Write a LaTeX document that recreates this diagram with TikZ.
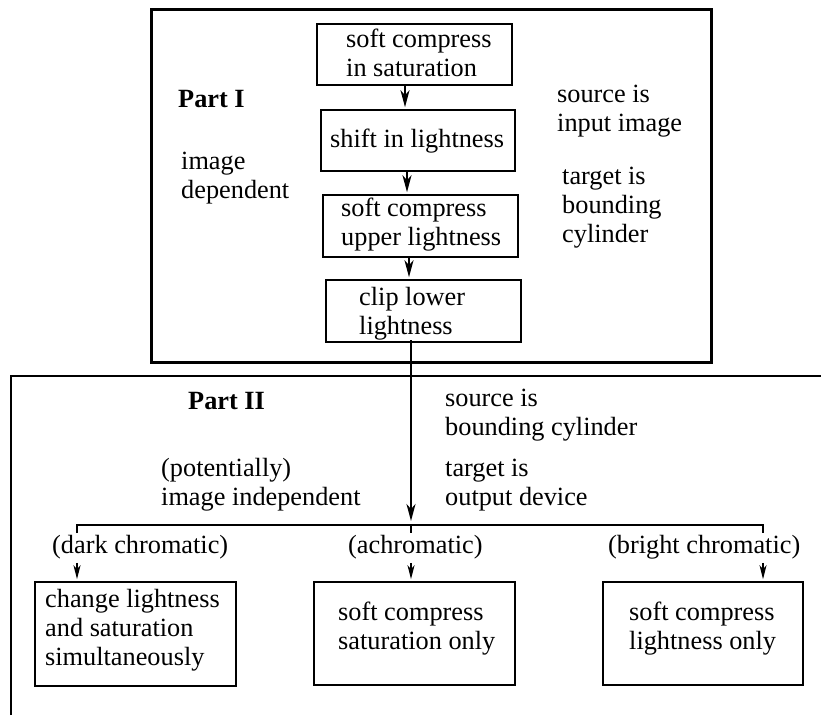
\documentclass[tikz,border=0pt]{standalone}
\usepackage{fontspec}
\setmainfont{Liberation Serif}
\usetikzlibrary{arrows.meta,calc}
\begin{document}
\begin{tikzpicture}[x=1pt,y=-1pt,
  font=\fontsize{26.3}{29}\selectfont,
  frame/.style={draw, line width=2.6pt, rectangle, inner sep=0pt},
  box/.style={draw, line width=2.6pt, rectangle, inner sep=0pt},
  txt/.style={inner sep=0pt, align=left},
  boldtxt/.style={inner sep=0pt, font=\fontsize{26.3}{29}\selectfont\bfseries},
  conn/.style={line width=2.6pt},
  arr/.style={line width=2pt, -{Stealth[length=17pt,width=9pt,inset=5pt]}},
  sarr/.style={line width=1.3pt, -{Stealth[length=14pt,width=7pt,inset=4pt]}},
]
\useasboundingbox (0,0) rectangle (821,715);

% Part I frame
\node[frame, anchor=north west, minimum width=560pt, minimum height=353pt] (p1) at (150,8) {};

% Part II frame lines
\coordinate (q0) at (11,715);
\coordinate (q1) at (11,376);
\coordinate (q2) at (821,376);
\draw[conn] (q0) -- (q1) -- (q2);

% Part I boxes
\node[box, minimum width=195pt, minimum height=61pt] (b1) at (414.5,54.5) {};
\node[box, minimum width=194pt, minimum height=61pt] (b2) at (418,140.5) {};
\node[box, minimum width=195pt, minimum height=62pt] (b3) at (420.5,226) {};
\node[box, minimum width=195pt, minimum height=62pt] (b4) at (423.5,311) {};

\node[txt, anchor=west] (t1) at (346,52.5) {soft compress\\in saturation};
\node[txt, anchor=west] (t2) at (330,140.9) {shift in lightness};
\node[txt, anchor=west] (t3) at (341,224.4) {soft compress\\upper lightness};
\node[txt, anchor=west] (t4) at (359,313.4) {clip lower\\lightness};

% Part I labels
\node[boldtxt, anchor=base west] (pI) at (178,107) {Part I};
\node[txt, anchor=west] (dep) at (181,178.4) {image\\dependent};
\node[txt, anchor=west] (src1) at (557,111.4) {source is\\input image};
\node[txt, anchor=west] (tgt1) at (562,207.9) {target is\\bounding\\cylinder};

% Part I arrows
\draw[arr, shorten >=1.5pt] ([xshift=-9.5pt]b1.south) coordinate (a1) -- (a1 |- b2.north);
\draw[arr, shorten >=1.5pt] ([xshift=-11pt]b2.south) coordinate (a2) -- (a2 |- b3.north);
\draw[arr, shorten >=1.5pt] ([xshift=-11.5pt]b3.south) coordinate (a3) -- (a3 |- b4.north);

% Part II labels
\node[boldtxt, anchor=base west] (pII) at (188,409) {Part II};
\node[txt, anchor=west] (ind) at (161,485.2) {(potentially)\\image independent};
\node[txt, anchor=west] (src2) at (445,415.4) {source is\\bounding cylinder};
\node[txt, anchor=west] (tgt2) at (445,485.4) {target is\\output device};

% splitting bar
\coordinate (jl) at (77,525);
\coordinate (jm) at (411,525);
\coordinate (jr) at (763,525);
\draw[arr, shorten >=4pt] ([xshift=-12.5pt,yshift=3pt]b4.south) -- (jm);
\draw[conn] ([yshift=-8pt]jl) -- (jl) -- (jr) -- ([yshift=-8pt]jr);
\draw[conn] (jm) -- ([yshift=-8pt]jm);

% branch labels
\node[txt, anchor=base west] (l1) at (52,553) {(dark chromatic)};
\node[txt, anchor=base west] (l2) at (348,553) {(achromatic)};
\node[txt, anchor=base west] (l3) at (608,553) {(bright chromatic)};

% Part II boxes
\node[box, minimum width=201pt, minimum height=104pt] (c1) at (135.5,634) {};
\node[box, minimum width=201pt, minimum height=103pt] (c2) at (414.5,633.5) {};
\node[box, minimum width=200pt, minimum height=103pt] (c3) at (703,633.5) {};

\node[txt, anchor=west] (u1) at (45,629.9) {change lightness\\and saturation\\simultaneously};
\node[txt, anchor=west] (u2) at (338,628.4) {soft compress\\saturation only};
\node[txt, anchor=west] (u3) at (629,628.4) {soft compress\\lightness only};

% branch arrows
\draw[sarr, shorten <=4pt, shorten >=1.5pt] (l1.south -| jl) -- (c1.north -| jl);
\draw[sarr, shorten <=4pt, shorten >=1.5pt] (l2.south -| jm) -- (c2.north -| jm);
\draw[sarr, shorten <=4pt, shorten >=1.5pt] (l3.south -| jr) -- (c3.north -| jr);
\end{tikzpicture}
\end{document}
